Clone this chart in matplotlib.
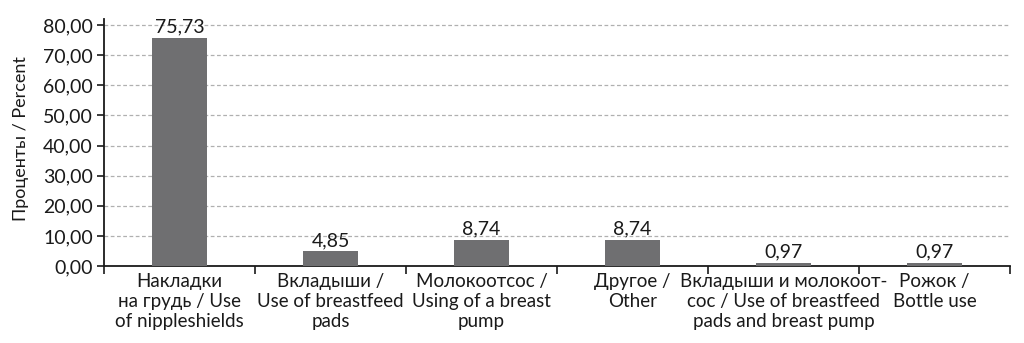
import matplotlib
matplotlib.use("Agg")
import matplotlib.pyplot as plt
from matplotlib.ticker import FuncFormatter, FixedLocator

categories = [
    "Накладки\nна грудь / Use\nof nippleshields",
    "Вкладыши /\nUse of breastfeed\npads",
    "Молокоотсос /\nUsing of a breast\npump",
    "Другое /\nOther",
    "Вкладыши и молокоот-\nсос / Use of breastfeed\npads and breast pump",
    "Рожок /\nBottle use",
]
values = [75.73, 4.85, 8.74, 8.74, 0.97, 0.97]
value_labels = ["75,73", "4,85", "8,74", "8,74", "0,97", "0,97"]
y_ticks = [0, 10, 20, 30, 40, 50, 60, 70, 80]
y_label = "Проценты / Percent"

plt.rcParams['font.family'] = ['Lato', 'DejaVu Sans']

fig = plt.figure(figsize=(10.24, 3.43), dpi=100)
ax = fig.add_axes([104/1024, (343-266)/343, (1010-104)/1024, (266-19)/343])

x = list(range(len(values)))
ax.bar(x, values, width=0.37, color="#6f6f71", zorder=3)
for xi, v, lab in zip(x, values, value_labels):
    ax.text(xi, v + 0.8, lab, ha="center", va="bottom", fontsize=14, color="#1a1a1a", zorder=4)

ax.set_xlim(-0.5, len(values) - 0.5)
ax.set_ylim(0, 82)
ax.set_yticks(y_ticks)
ax.yaxis.set_major_formatter(FuncFormatter(lambda v, p: f"{v:.2f}".replace(".", ",")))
ax.grid(axis="y", linestyle=(0, (3, 2)), color="#b0b0b0", linewidth=0.9, zorder=0)

ax.set_xticks(x)
ax.set_xticklabels(categories, fontsize=13.5, color="#1a1a1a", linespacing=1.2)
ax.tick_params(axis="x", which="major", length=0, pad=5)
ax.xaxis.set_minor_locator(FixedLocator([i - 0.5 for i in range(len(values) + 1)]))
ax.tick_params(axis="x", which="minor", length=6, width=1.2, color="#1a1a1a", direction="out")
ax.tick_params(axis="y", length=5, width=1.2, labelsize=14, colors="#1a1a1a", pad=3)

for s in ["top", "right"]:
    ax.spines[s].set_visible(False)
for s in ["left", "bottom"]:
    ax.spines[s].set_color("#1a1a1a")
    ax.spines[s].set_linewidth(1.3)

fig.text(21/1024, (343-139)/343, y_label, rotation=90, ha="center", va="center", fontsize=13, color="#1a1a1a")

fig.savefig("out.png", dpi=100)
